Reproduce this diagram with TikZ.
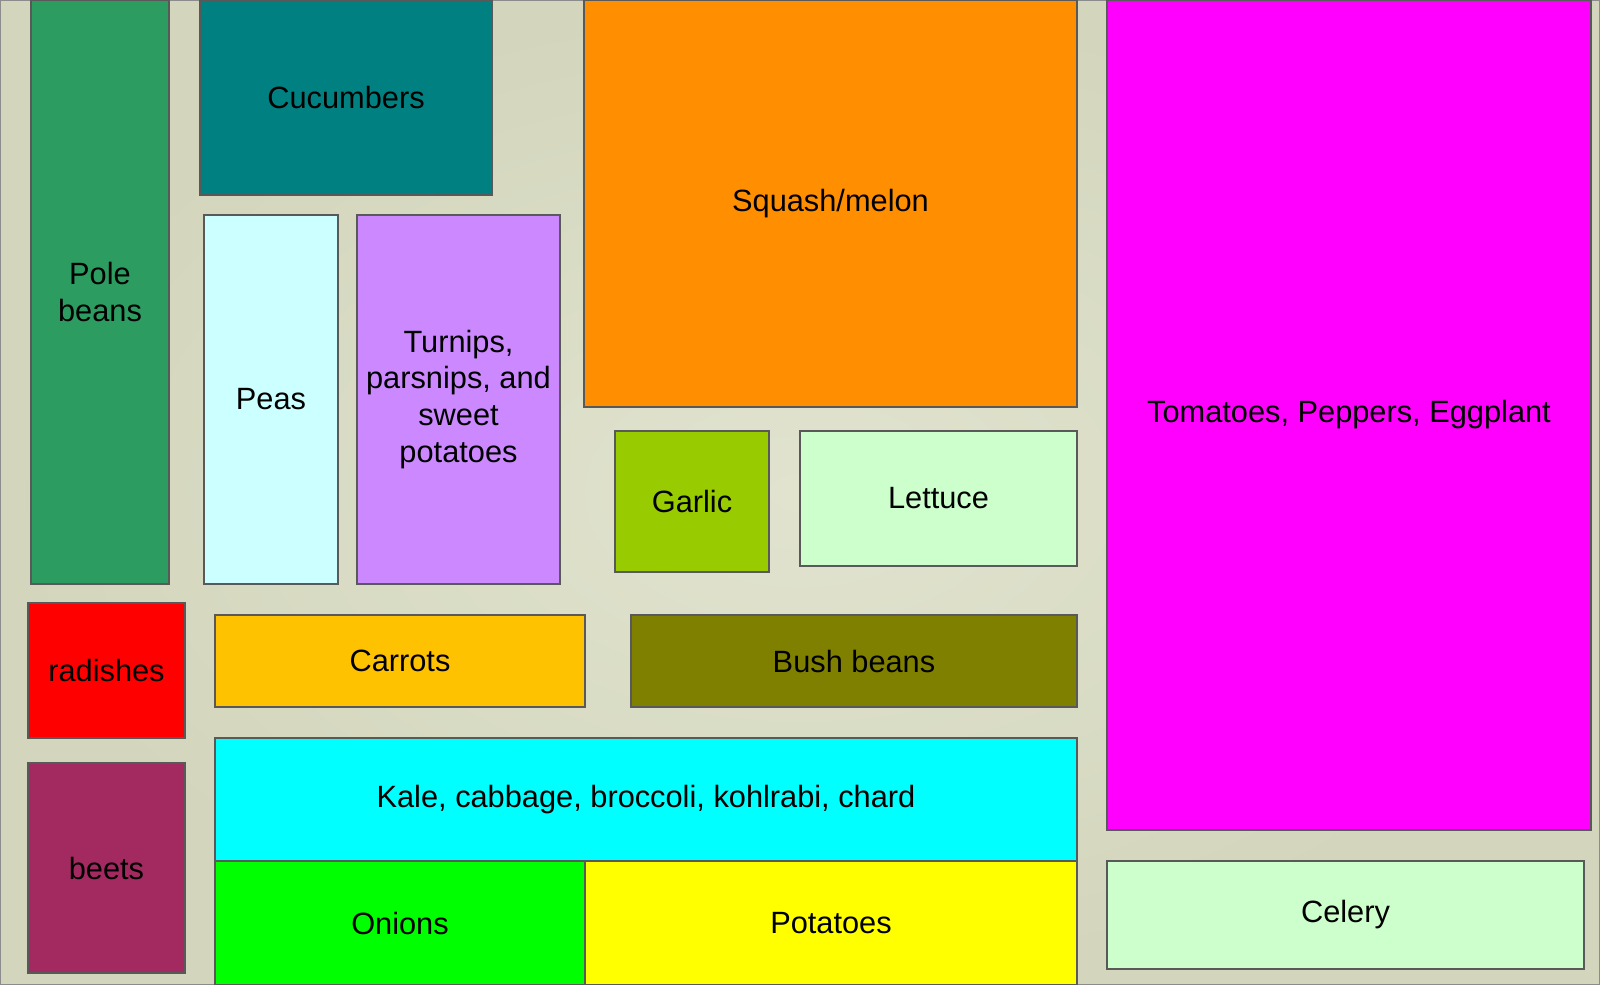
\documentclass[tikz,border=0pt]{standalone}
\usepackage{fontspec}
\setmainfont{Liberation Sans}
\usepackage{tikz}

\definecolor{soillight}{HTML}{E1E3CF}
\definecolor{soildark}{HTML}{D3D6BC}
\definecolor{polegreen}{HTML}{2C9C60}
\definecolor{cuketeal}{HTML}{008080}
\definecolor{peablue}{HTML}{CCFFFF}
\definecolor{turnipviolet}{HTML}{CC88FF}
\definecolor{squashorange}{HTML}{FF8E00}
\definecolor{garlicgreen}{HTML}{99CC00}
\definecolor{leafgreen}{HTML}{CCFFCC}
\definecolor{tomatomagenta}{HTML}{FF00FF}
\definecolor{radishred}{HTML}{FF0000}
\definecolor{carrotorange}{HTML}{FFC200}
\definecolor{busholive}{HTML}{808000}
\definecolor{kalecyan}{HTML}{00FFFF}
\definecolor{beetpurple}{HTML}{A32A60}
\definecolor{oniongreen}{HTML}{00FF00}
\definecolor{potatoyellow}{HTML}{FFFF00}

\begin{document}
\begin{tikzpicture}[
  x=0.01cm, y=-0.01cm,
  bed/.style={draw=black!65, line width=0.4pt},
  crop/.style={align=center, inner sep=0pt, text=black,
    font=\fontsize{8.75}{10.5}\selectfont},
]
  \useasboundingbox (0,0) rectangle (1600,985);

  % Soil
  \shade[inner color=soillight, outer color=soildark] (0,0) rectangle (1600,985);
  \draw[black!45, line width=0.4pt] (0,0) rectangle (1600,985);

  % Left strip
  \draw[bed, fill=polegreen] (31,0) rectangle (169,584)
    node[crop, midway] (pole) {Pole\\beans};
  \draw[bed, fill=radishred] (28,603) rectangle (185,738)
    node[crop, midway] (radish) {radishes};
  \draw[bed, fill=beetpurple] (28,763) rectangle (185,973)
    node[crop, midway] (beet) {beets};

  % Middle beds
  \draw[bed, fill=cuketeal] (200,0) rectangle (492,195)
    node[crop, midway] (cuke) {Cucumbers};
  \draw[bed, fill=peablue] (204,215) rectangle (338,584)
    node[crop, midway] (pea) {Peas};
  \draw[bed, fill=turnipviolet] (357,215) rectangle (560,584)
    node[crop, midway] (turnip) {Turnips,\\parsnips, and\\sweet\\potatoes};
  \draw[bed, fill=squashorange] (584,0) rectangle (1077,407)
    node[crop, midway] (squash) {Squash/melon};
  \draw[bed, fill=garlicgreen] (615,431) rectangle (769,572)
    node[crop, midway] (garlic) {Garlic};
  \draw[bed, fill=leafgreen] (800,431) rectangle (1077,566)
    node[crop, midway] (lettuce) {Lettuce};
  \draw[bed, fill=carrotorange] (215,615) rectangle (585,707)
    node[crop, midway] (carrot) {Carrots};
  \draw[bed, fill=busholive] (631,615) rectangle (1077,707)
    node[crop, midway] (bush) {Bush beans};

  % Bottom block
  \draw[bed, fill=kalecyan] (215,738) rectangle (1077,861)
    node[crop, midway] (kale) {Kale, cabbage, broccoli, kohlrabi, chard};
  \draw[bed, fill=oniongreen] (215,861) rectangle (585,985)
    node[crop, midway] (onion) {Onions};
  \draw[bed, fill=potatoyellow] (585,861) rectangle (1077,985)
    node[crop, midway] (potato) {Potatoes};

  % Right strip
  \draw[bed, fill=tomatomagenta] (1107,0) rectangle (1591,830)
    node[crop, midway] (tomato) {Tomatoes, Peppers, Eggplant};
  \draw[bed, fill=leafgreen] (1107,861) rectangle (1584,969)
    node[crop, midway] (celery) {Celery};
\end{tikzpicture}
\end{document}
